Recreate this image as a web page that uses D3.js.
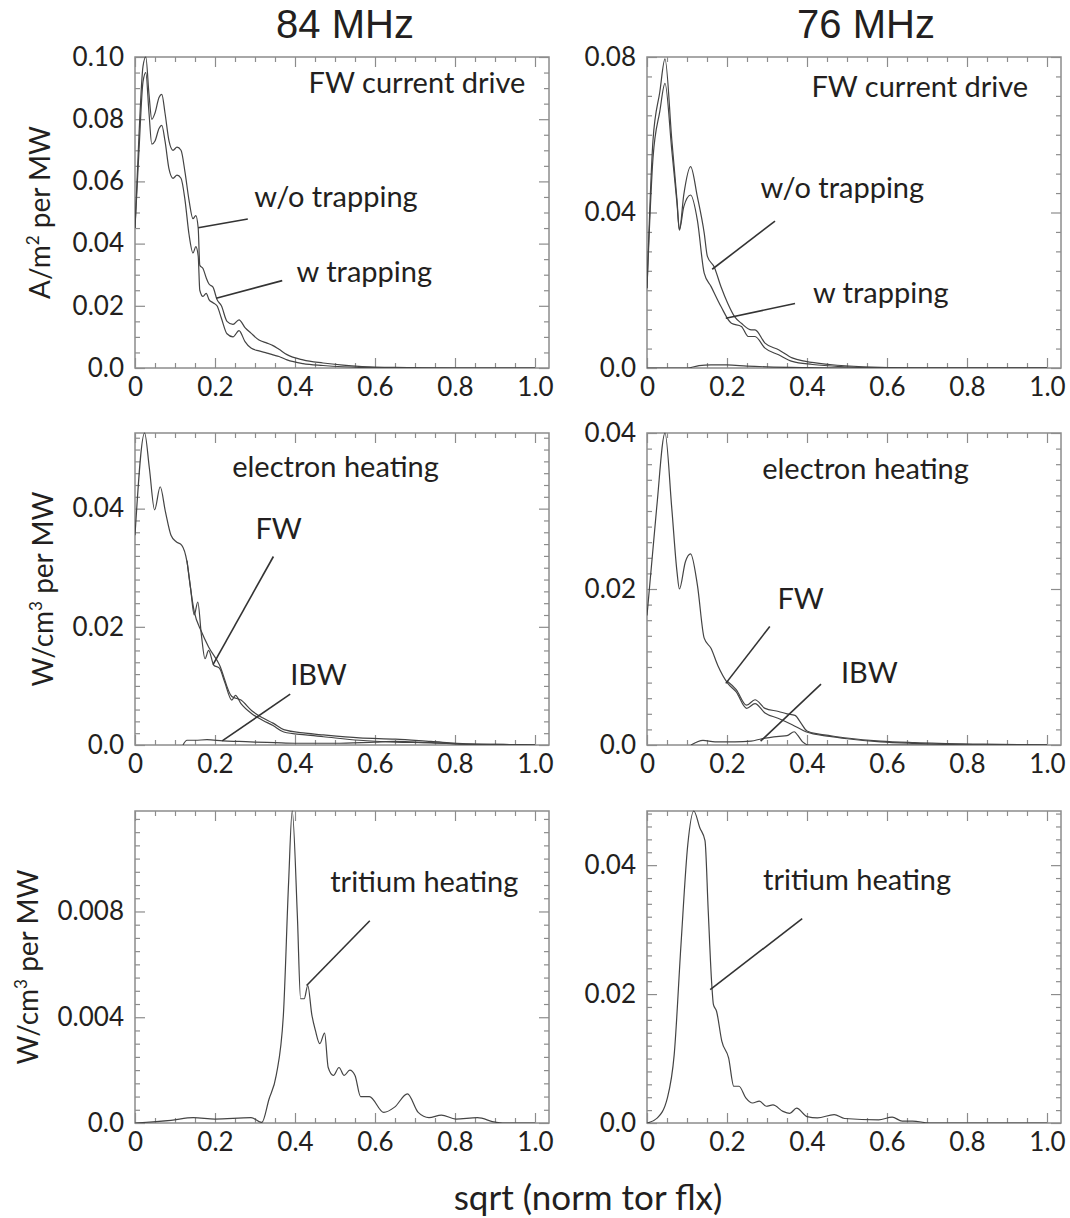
<!DOCTYPE html>
<html>
<head>
<meta charset="utf-8">
<script src="https://cdn.jsdelivr.net/npm/d3@7"></script>
<style>
body { margin: 0; background: #fff; }
text { font-family: Lato, "Open Sans", sans-serif; fill: #231f20; }
</style>
</head>
<body>
<svg id="chart" width="1070" height="1218"></svg>
<script>
// ---- data ----
// 84 MHz, FW current drive
var p1x = [0, 0.01, 0.02, 0.027, 0.035, 0.042, 0.05, 0.06, 0.067, 0.075, 0.085, 0.095, 0.105, 0.115, 0.125, 0.135, 0.145, 0.152, 0.158, 0.162, 0.17, 0.178, 0.185, 0.195, 0.205, 0.216, 0.23, 0.245, 0.26, 0.275, 0.29, 0.31, 0.33, 0.345, 0.36, 0.38, 0.42, 0.47, 0.52, 0.56, 0.6, 0.65, 0.7, 0.8, 0.9, 1.0];
var p1WoTrap = [0.045, 0.075, 0.097, 0.100, 0.088, 0.080, 0.082, 0.087, 0.088, 0.082, 0.073, 0.070, 0.071, 0.070, 0.063, 0.054, 0.048, 0.049, 0.045, 0.033, 0.032, 0.029, 0.027, 0.026, 0.022, 0.020, 0.015, 0.014, 0.0155, 0.013, 0.0112, 0.009, 0.008, 0.0072, 0.006, 0.0043, 0.0026, 0.0016, 0.0009, 0.0005, 0.0003, 0.0002, 0.0001, 0, 0, 0];
var p1WTrap = [0.045, 0.070, 0.092, 0.095, 0.082, 0.072, 0.073, 0.077, 0.078, 0.073, 0.064, 0.061, 0.062, 0.061, 0.054, 0.043, 0.037, 0.039, 0.036, 0.025, 0.023, 0.024, 0.022, 0.021, 0.020, 0.016, 0.011, 0.010, 0.012, 0.0085, 0.0064, 0.0055, 0.0048, 0.0042, 0.0037, 0.0026, 0.0014, 0.0008, 0.0004, 0.0002, 0.0001, 0, 0, 0, 0, 0];

// 76 MHz, FW current drive
var p2xWo = [0, 0.015, 0.032, 0.045, 0.062, 0.075, 0.081, 0.092, 0.109, 0.126, 0.143, 0.151, 0.168, 0.185, 0.202, 0.219, 0.236, 0.261, 0.27, 0.295, 0.329, 0.363, 0.397, 0.457, 0.54, 0.67, 1.0];
var p2WoTrap = [0.0205, 0.0586, 0.071, 0.0795, 0.0587, 0.0432, 0.0355, 0.0446, 0.0518, 0.044, 0.0347, 0.0287, 0.026, 0.0209, 0.0166, 0.0132, 0.0115, 0.0098, 0.0098, 0.0064, 0.0047, 0.0026, 0.0017, 0.0009, 0.0003, 0, 0];
var p2xW = [0, 0.015, 0.032, 0.045, 0.062, 0.075, 0.081, 0.092, 0.109, 0.126, 0.143, 0.16, 0.185, 0.211, 0.236, 0.253, 0.27, 0.295, 0.329, 0.363, 0.414, 0.5, 0.584, 1.0];
var p2WTrap = [0.0205, 0.054, 0.066, 0.0732, 0.056, 0.0423, 0.0355, 0.0415, 0.0445, 0.038, 0.0244, 0.021, 0.0158, 0.0115, 0.0107, 0.0081, 0.0081, 0.0051, 0.0034, 0.0017, 0.0009, 0.0003, 0, 0];
var p2xLow = [0, 0.1, 0.13, 0.16, 0.2, 0.25, 0.3, 0.4, 0.5, 1.0];
var p2Low = [0, 0, 0.0006, 0.0008, 0.0008, 0.0005, 0.0003, 0.0001, 0, 0];

// 84 MHz, electron heating
var p3x = [0, 0.024, 0.036, 0.049, 0.063, 0.076, 0.09, 0.103, 0.117, 0.13, 0.139, 0.148, 0.157, 0.166, 0.175, 0.184, 0.197, 0.211, 0.224, 0.242, 0.251, 0.265, 0.292, 0.319, 0.345, 0.372, 0.426, 0.471, 0.561, 0.651, 0.74, 0.83, 0.92, 1.0];
var p3Fw = [0.0355, 0.0528, 0.0468, 0.0398, 0.0437, 0.0395, 0.0355, 0.0344, 0.0338, 0.031, 0.0265, 0.022, 0.0242, 0.0186, 0.0146, 0.016, 0.0135, 0.013, 0.0107, 0.0076, 0.0084, 0.007, 0.0053, 0.0042, 0.0033, 0.0022, 0.0017, 0.0014, 0.0008, 0.0005, 0.0004, 0.0001, 0, 0];
var p3xTot = [0.13, 0.148, 0.166, 0.184, 0.211, 0.242, 0.265, 0.292, 0.319, 0.345, 0.372, 0.426, 0.471, 0.561, 0.651, 0.74, 0.83, 0.92, 1.0];
var p3Tot = [0.0312, 0.0226, 0.0192, 0.0166, 0.0136, 0.0082, 0.0076, 0.0058, 0.0046, 0.0037, 0.0026, 0.0020, 0.0017, 0.0012, 0.0010, 0.0006, 0.0002, 0.0001, 0];
var p3xIbw = [0.12, 0.13, 0.15, 0.18, 0.22, 0.26, 0.3, 0.35, 0.4, 0.5, 0.6, 0.65, 0.7, 0.8, 0.9, 1.0];
var p3Ibw = [0, 0.0008, 0.0008, 0.0009, 0.0007, 0.0006, 0.0005, 0.0004, 0.0003, 0.0003, 0.0005, 0.0006, 0.0005, 0.0002, 0.0001, 0];

// 76 MHz, electron heating
var p4x = [0, 0.024, 0.045, 0.062, 0.075, 0.081, 0.096, 0.109, 0.126, 0.143, 0.16, 0.177, 0.202, 0.223, 0.249, 0.27, 0.295, 0.329, 0.363, 0.397, 0.457, 0.5, 0.584, 0.669, 0.84, 1.0];
var p4Fw = [0.0166, 0.0303, 0.04, 0.0303, 0.0222, 0.02, 0.0235, 0.0245, 0.0205, 0.0137, 0.0124, 0.0102, 0.0079, 0.0068, 0.0047, 0.0053, 0.0041, 0.0034, 0.0026, 0.0017, 0.0011, 0.0008, 0.0004, 0.0002, 0, 0];
var p4xTot = [0.2, 0.223, 0.249, 0.27, 0.295, 0.329, 0.35, 0.37, 0.385, 0.4, 0.43, 0.457, 0.5, 0.584, 0.669, 0.84, 1.0];
var p4Tot = [0.0082, 0.0071, 0.0051, 0.0058, 0.0047, 0.0043, 0.004, 0.0038, 0.0028, 0.0018, 0.0014, 0.0012, 0.0009, 0.0005, 0.0003, 0.0001, 0];
var p4xIbw = [0.11, 0.14, 0.17, 0.22, 0.26, 0.287, 0.33, 0.35, 0.368, 0.376, 0.389, 0.405, 0.5, 1.0];
var p4Ibw = [0, 0.0006, 0.0004, 0.0004, 0.0005, 0.0008, 0.0011, 0.0012, 0.0017, 0.0013, 0.0004, 0, 0, 0];

// 84 MHz, tritium heating
var p5x = [0, 0.09, 0.146, 0.2, 0.29, 0.317, 0.335, 0.353, 0.371, 0.384, 0.393, 0.406, 0.414, 0.423, 0.432, 0.442, 0.451, 0.462, 0.474, 0.483, 0.496, 0.51, 0.523, 0.537, 0.55, 0.564, 0.586, 0.622, 0.649, 0.681, 0.708, 0.735, 0.766, 0.802, 0.856, 0.901, 0.919, 1.0];
var p5T = [0, 0.0001, 0.0002, 0.00015, 0.0002, 0.00002, 0.0009, 0.0018, 0.0041, 0.0091, 0.0118, 0.0078, 0.0047, 0.0047, 0.0052, 0.0041, 0.0035, 0.003, 0.0034, 0.0021, 0.0018, 0.0021, 0.0018, 0.002, 0.0018, 0.001, 0.001, 0.0004, 0.0006, 0.0011, 0.0004, 0.0002, 0.0003, 0.00015, 0.0002, 0.00003, 0, 0];

// 76 MHz, tritium heating
var p6x = [0, 0.026, 0.051, 0.068, 0.085, 0.102, 0.117, 0.132, 0.145, 0.153, 0.162, 0.166, 0.174, 0.187, 0.204, 0.217, 0.23, 0.247, 0.264, 0.281, 0.298, 0.315, 0.34, 0.357, 0.374, 0.4, 0.426, 0.468, 0.494, 0.579, 0.613, 0.638, 0.664, 0.706, 1.0];
var p6T = [0, 0.0008, 0.0039, 0.0106, 0.0277, 0.0432, 0.0484, 0.0458, 0.0438, 0.033, 0.0214, 0.0184, 0.0173, 0.0127, 0.0101, 0.0057, 0.0057, 0.0039, 0.0031, 0.0034, 0.0026, 0.0028, 0.0018, 0.0015, 0.0023, 0.001, 0.0008, 0.0013, 0.0007, 0.0005, 0.0009, 0.0003, 0.0003, 0, 0];

// tick labels
var xTicks = [0, 0.2, 0.4, 0.6, 0.8, 1.0];
var titles = ["84 MHz", "76 MHz"];
var xTitle = "sqrt (norm tor flx)";

// ---- layout ----
var xMax = 1.035;
var cols = [{left: 135, width: 414, title: 345}, {left: 647, width: 414, title: 866}];
var rows = [{top: 57, height: 311}, {top: 433, height: 312}, {top: 811, height: 312}];
var frameColor = "#8c8c8c", lineColor = "#444";

var panels = [
  {col: 0, row: 0, yMax: 0.10, yTicks: [0, 0.02, 0.04, 0.06, 0.08, 0.10], minor: 0.005, fmt: ".2f",
   series: [[p1x, p1WoTrap], [p1x, p1WTrap]],
   notes: [{t: "FW current drive", x: 0.434, y: 0.0884},
           {t: "w/o trapping", x: 0.298, y: 0.0518, l: [0.282, 0.0479, 0.158, 0.0451]},
           {t: "w trapping", x: 0.404, y: 0.0277, l: [0.368, 0.0281, 0.203, 0.0224]}]},
  {col: 1, row: 0, yMax: 0.08, yTicks: [0, 0.04, 0.08], minor: 0.005, fmt: ".2f",
   series: [[p2xWo, p2WoTrap], [p2xW, p2WTrap], [p2xLow, p2Low]],
   notes: [{t: "FW current drive", x: 0.411, y: 0.0697},
           {t: "w/o trapping", x: 0.284, y: 0.0437, l: [0.320, 0.0378, 0.163, 0.0254]},
           {t: "w trapping", x: 0.415, y: 0.0167, l: [0.370, 0.0166, 0.197, 0.0128]}]},
  {col: 0, row: 1, yMax: 0.0528, yTicks: [0, 0.02, 0.04], minor: 0.002, fmt: ".2f",
   series: [[p3x, p3Fw], [p3xTot, p3Tot], [p3xIbw, p3Ibw]],
   notes: [{t: "electron heating", x: 0.243, y: 0.0454},
           {t: "FW", x: 0.301, y: 0.0349, l: [0.346, 0.0319, 0.195, 0.0136]},
           {t: "IBW", x: 0.388, y: 0.0102, l: [0.388, 0.0086, 0.218, 0.0007]}]},
  {col: 1, row: 1, yMax: 0.04, yTicks: [0, 0.02, 0.04], minor: 0.002, fmt: ".2f",
   series: [[p4x, p4Fw], [p4xTot, p4Tot], [p4xIbw, p4Ibw]],
   notes: [{t: "electron heating", x: 0.288, y: 0.0341},
           {t: "FW", x: 0.326, y: 0.0175, l: [0.307, 0.0152, 0.197, 0.0079]},
           {t: "IBW", x: 0.485, y: 0.0079, l: [0.435, 0.0078, 0.284, 0.0005]}]},
  {col: 0, row: 2, yMax: 0.0118, yTicks: [0, 0.004, 0.008], minor: 0.0005, fmt: ".3f",
   series: [[p5x, p5T]],
   notes: [{t: "tritium heating", x: 0.488, y: 0.00873, l: [0.587, 0.00765, 0.429, 0.0052]}]},
  {col: 1, row: 2, yMax: 0.0484, yTicks: [0, 0.02, 0.04], minor: 0.002, fmt: ".2f",
   series: [[p6x, p6T]],
   notes: [{t: "tritium heating", x: 0.29, y: 0.0362, l: [0.388, 0.0317, 0.158, 0.0207]}]}
];

var yLabels = [
  {row: 0, x: 50, parts: ["A/m", "2", " per MW"]},
  {row: 1, x: 53, parts: ["W/cm", "3", " per MW"]},
  {row: 2, x: 38, parts: ["W/cm", "3", " per MW"]}
];

var svg = d3.select("#chart");

function styleAxis(g) {
  g.select(".domain").remove();
  g.attr("color", frameColor).attr("font-family", null).attr("font-size", null);
  g.selectAll(".tick line").attr("stroke-width", 1.2);
  g.selectAll("text").attr("fill", "#231f20").style("font-size", "26px");
}

function drawPanel(p, i) {
  var c = cols[p.col], r = rows[p.row];
  var bottom = r.top + r.height, right = c.left + c.width;
  var x = d3.scaleLinear().domain([0, xMax]).range([c.left, right]);
  var y = d3.scaleLinear().domain([0, p.yMax]).range([bottom, r.top]);
  var g = svg.append("g").attr("class", "panel");

  var xMinor = d3.range(0.05, xMax, 0.05).filter(function(v) { return Math.abs(v * 5 - Math.round(v * 5)) > 1e-6; });
  var yMinor = d3.range(p.minor, p.yMax, p.minor).filter(function(v) {
    return !p.yTicks.some(function(t) { return Math.abs(t - v) < 1e-9; });
  });
  var fmtY = function(d) { return d === 0 ? "0.0" : d3.format(p.fmt)(d); };
  var fmtX = function(d) { return d === 0 ? "0" : d3.format(".1f")(d); };

  g.append("g").attr("transform", "translate(0," + bottom + ")")
    .call(d3.axisBottom(x).tickValues(xTicks).tickSize(-10).tickPadding(10).tickFormat(fmtX)).call(styleAxis);
  g.append("g").attr("transform", "translate(0," + bottom + ")")
    .call(d3.axisBottom(x).tickValues(xMinor).tickSize(-5).tickFormat("")).call(styleAxis);
  g.append("g").attr("transform", "translate(0," + r.top + ")")
    .call(d3.axisTop(x).tickValues(xTicks).tickSize(-10).tickFormat("")).call(styleAxis);
  g.append("g").attr("transform", "translate(0," + r.top + ")")
    .call(d3.axisTop(x).tickValues(xMinor).tickSize(-5).tickFormat("")).call(styleAxis);

  g.append("g").attr("transform", "translate(" + c.left + ",0)")
    .call(d3.axisLeft(y).tickValues(p.yTicks).tickSize(-10).tickPadding(11).tickFormat(fmtY)).call(styleAxis);
  g.append("g").attr("transform", "translate(" + c.left + ",0)")
    .call(d3.axisLeft(y).tickValues(yMinor).tickSize(-5).tickFormat("")).call(styleAxis);
  g.append("g").attr("transform", "translate(" + right + ",0)")
    .call(d3.axisRight(y).tickValues(p.yTicks).tickSize(-10).tickFormat("")).call(styleAxis);
  g.append("g").attr("transform", "translate(" + right + ",0)")
    .call(d3.axisRight(y).tickValues(yMinor).tickSize(-5).tickFormat("")).call(styleAxis);

  g.append("rect").attr("x", c.left).attr("y", r.top).attr("width", c.width).attr("height", r.height)
    .attr("fill", "none").attr("stroke", frameColor).attr("stroke-width", 1.5);

  var clipId = "clip" + i;
  svg.append("clipPath").attr("id", clipId).append("rect")
    .attr("x", c.left).attr("y", r.top - 1).attr("width", c.width).attr("height", r.height + 1);

  var line = d3.line().x(function(d) { return x(d[0]); }).y(function(d) { return y(d[1]); }).curve(d3.curveMonotoneX);
  g.append("g").attr("clip-path", "url(#" + clipId + ")")
    .selectAll("path").data(p.series).join("path")
    .attr("d", function(s) { return line(d3.zip(s[0], s[1])); })
    .attr("fill", "none").attr("stroke", lineColor).attr("stroke-width", 1.2);

  p.notes.forEach(function(n) {
    if (n.l) {
      g.append("line").attr("x1", x(n.l[0])).attr("y1", y(n.l[1])).attr("x2", x(n.l[2])).attr("y2", y(n.l[3]))
        .attr("stroke", "#333").attr("stroke-width", 1.6);
    }
    g.append("text").attr("x", x(n.x)).attr("y", y(n.y)).style("font-size", "29px").text(n.t);
  });
}

panels.forEach(drawPanel);

cols.forEach(function(c, i) {
  svg.append("text").attr("x", c.title).attr("y", 38).attr("text-anchor", "middle")
    .style("font-family", "'Liberation Sans', Arial, sans-serif").style("font-size", "40px").text(titles[i]);
});

yLabels.forEach(function(l) {
  var r = rows[l.row];
  var t = svg.append("text").attr("transform", "translate(" + l.x + "," + (r.top + r.height / 2) + ") rotate(-90)")
    .attr("text-anchor", "middle").style("font-size", "28px");
  t.append("tspan").text(l.parts[0]);
  t.append("tspan").attr("dy", -11).style("font-size", "17px").text(l.parts[1]);
  t.append("tspan").attr("dy", 11).text(l.parts[2]);
});

svg.append("text").attr("x", 588).attr("y", 1210).attr("text-anchor", "middle")
  .style("font-size", "35px").text(xTitle);
</script>
</body>
</html>
